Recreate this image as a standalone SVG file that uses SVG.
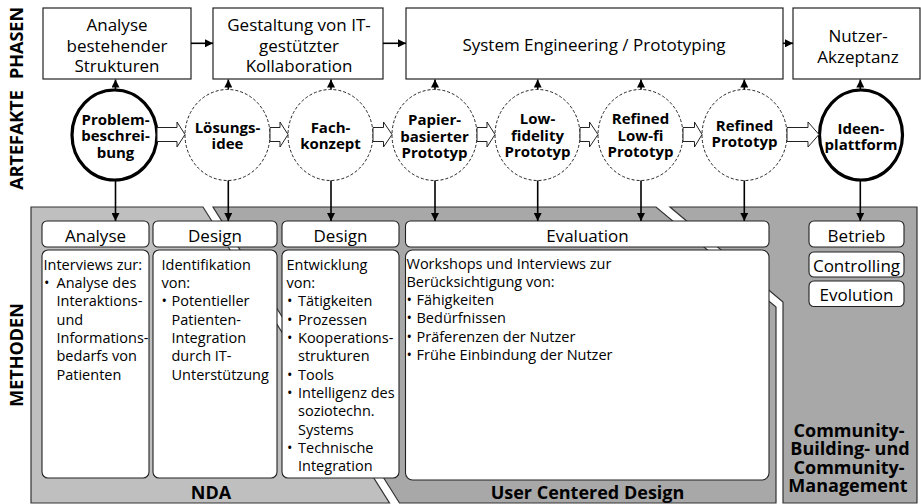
<svg xmlns="http://www.w3.org/2000/svg" width="921" height="504" viewBox="0 0 921 504">
  <style>
    text { font-family: "Open Sans", "Noto Sans", "DejaVu Sans", sans-serif; fill: #000; }
    .side { font-size: 18px; font-weight: bold; text-anchor: middle; }
    .phase { fill: #fff; stroke: #222; stroke-width: 1.2; }
    .phase-t { font-size: 17px; text-anchor: middle; }
    .art-solid { fill: #fff; stroke: #000; stroke-width: 3.2; }
    .art-dash { fill: #fff; stroke: #222; stroke-width: 1; stroke-dasharray: 3 2; }
    .art-t { font-size: 15px; font-weight: bold; text-anchor: middle; }
    .flow { fill: #fff; stroke: #222; stroke-width: 1; }
    .link { stroke: #000; stroke-width: 1.6; fill: none; }
    .panel-nda { fill: #bfbfbf; stroke: #333; stroke-width: 1.2; }
    .panel-ucd { fill: #a8a8a8; stroke: #333; stroke-width: 1.2; }
    .hdr { fill: #fff; stroke: #222; stroke-width: 1.1; }
    .hdr-t { font-size: 17px; text-anchor: middle; }
    .body { fill: #fff; stroke: #222; stroke-width: 1.1; }
    .body-t { font-size: 14.5px; }
    .foot { font-size: 18px; font-weight: bold; text-anchor: middle; }
  </style>
  <defs>
    <marker id="tip" viewBox="0 0 8 8" refX="8" refY="4" markerWidth="8" markerHeight="8" markerUnits="userSpaceOnUse" orient="auto">
      <path d="M0,0 L8,4 L0,8 z" fill="#000"/>
    </marker>
  </defs>

  <!-- row labels -->
  <g id="row-labels">
    <text class="side" transform="translate(23,43) rotate(-90)">PHASEN</text>
    <text class="side" transform="translate(23,140) rotate(-90)">ARTEFAKTE</text>
    <text class="side" transform="translate(23,355) rotate(-90)">METHODEN</text>
  </g>

  <!-- method areas -->
  <g id="area-nda">
    <polygon class="panel-nda" points="31,207 203,207 389.5,503 31,503"/>
    <text class="foot" x="211" y="499">NDA</text>
  </g>
  <g id="area-ucd">
    <polygon class="panel-ucd" points="213,207 656,207 776,307 776,503 399.5,503"/>
    <text class="foot" x="587.5" y="498.5">User Centered Design</text>
  </g>
  <g id="area-community">
    <polygon class="panel-ucd" points="670,207 917,207 917,503 783,503 783,302"/>
    <text class="foot" x="849" y="437">Community-</text>
    <text class="foot" x="850" y="455.3">Building- und</text>
    <text class="foot" x="849" y="473.6">Community-</text>
    <text class="foot" x="848" y="492">Management</text>
  </g>

  <!-- phases -->
  <g id="phase-analyse">
    <rect class="phase" x="43" y="8" width="148" height="71"/>
    <text class="phase-t" x="117" y="31">Analyse</text>
    <text class="phase-t" x="117" y="51.5">bestehender</text>
    <text class="phase-t" x="117" y="72">Strukturen</text>
  </g>
  <g id="phase-gestaltung">
    <rect class="phase" x="213" y="8" width="170" height="71"/>
    <text class="phase-t" x="299" y="31">Gestaltung von IT-</text>
    <text class="phase-t" x="299" y="51.5">gestützter</text>
    <text class="phase-t" x="299" y="72">Kollaboration</text>
  </g>
  <g id="phase-engineering">
    <rect class="phase" x="406" y="8" width="377" height="71"/>
    <text class="phase-t" x="594" y="50.5">System Engineering / Prototyping</text>
  </g>
  <g id="phase-akzeptanz">
    <rect class="phase" x="793" y="8" width="127" height="71"/>
    <text class="phase-t" x="858" y="41.5">Nutzer-</text>
    <text class="phase-t" x="858" y="63">Akzeptanz</text>
  </g>

  <!-- artefacts -->
  <g id="art-problem">
    <ellipse class="art-solid" cx="114.5" cy="135" rx="42.5" ry="45"/>
    <text class="art-t" x="115.5" y="124.5">Problem-</text>
    <text class="art-t" x="115.5" y="141">beschrei-</text>
    <text class="art-t" x="115.5" y="157.5">bung</text>
  </g>
  <g id="art-loesung">
    <ellipse class="art-dash" cx="227.5" cy="135" rx="42.5" ry="45.5"/>
    <text class="art-t" x="227.5" y="132.5">Lösungs-</text>
    <text class="art-t" x="227.5" y="149">idee</text>
  </g>
  <g id="art-fach">
    <ellipse class="art-dash" cx="330.5" cy="135" rx="42.5" ry="45.5"/>
    <text class="art-t" x="330.5" y="132.5">Fach-</text>
    <text class="art-t" x="330.5" y="149">konzept</text>
  </g>
  <g id="art-papier">
    <ellipse class="art-dash" cx="434.5" cy="135" rx="42.5" ry="45.5"/>
    <text class="art-t" x="434.5" y="125">Papier-</text>
    <text class="art-t" x="434.5" y="141.5">basierter</text>
    <text class="art-t" x="434.5" y="158">Prototyp</text>
  </g>
  <g id="art-lowfi">
    <ellipse class="art-dash" cx="537.5" cy="135" rx="42.5" ry="45.5"/>
    <text class="art-t" x="537.5" y="124">Low-</text>
    <text class="art-t" x="537.5" y="140.5">fidelity</text>
    <text class="art-t" x="537.5" y="157">Prototyp</text>
  </g>
  <g id="art-refined-lowfi">
    <ellipse class="art-dash" cx="640.5" cy="135" rx="42.5" ry="45.5"/>
    <text class="art-t" x="640.5" y="124">Refined</text>
    <text class="art-t" x="640.5" y="140.5">Low-fi</text>
    <text class="art-t" x="640.5" y="157">Prototyp</text>
  </g>
  <g id="art-refined">
    <ellipse class="art-dash" cx="744.5" cy="135" rx="42.5" ry="45.5"/>
    <text class="art-t" x="744.5" y="130.5">Refined</text>
    <text class="art-t" x="744.5" y="147">Prototyp</text>
  </g>
  <g id="art-ideen">
    <ellipse class="art-solid" cx="861" cy="135" rx="41.5" ry="45"/>
    <text class="art-t" x="861" y="133.5">Ideen-</text>
    <text class="art-t" x="861" y="150">plattform</text>
  </g>

  <!-- methods -->
  <g id="m-analyse">
    <rect class="hdr" x="42" y="221" width="107" height="26" rx="5"/>
    <text class="hdr-t" x="95.5" y="241.5">Analyse</text>
    <rect class="body" x="42" y="250" width="107" height="228" rx="6"/>
    <text class="body-t" x="43.5" y="269.5">Interviews zur:</text>
    <text class="body-t" x="44" y="288">•</text>
    <text class="body-t" x="56.5" y="288">Analyse des</text>
    <text class="body-t" x="56.5" y="306.3">Interaktions-</text>
    <text class="body-t" x="56.5" y="324.6">und</text>
    <text class="body-t" x="56.5" y="343">Informations-</text>
    <text class="body-t" x="56.5" y="361.3">bedarfs von</text>
    <text class="body-t" x="56.5" y="379.6">Patienten</text>
  </g>
  <g id="m-design-1">
    <rect class="hdr" x="153" y="221" width="124" height="26" rx="5"/>
    <text class="hdr-t" x="215" y="241.5">Design</text>
    <rect class="body" x="153" y="250" width="124" height="228" rx="6"/>
    <text class="body-t" x="161.5" y="269.5">Identifikation</text>
    <text class="body-t" x="161.5" y="288">von:</text>
    <text class="body-t" x="161.5" y="306.3">•</text>
    <text class="body-t" x="171.5" y="306.3">Potentieller</text>
    <text class="body-t" x="171.5" y="324.6">Patienten-</text>
    <text class="body-t" x="171.5" y="343">Integration</text>
    <text class="body-t" x="171.5" y="361.3">durch IT-</text>
    <text class="body-t" x="171.5" y="379.6">Unterstützung</text>
  </g>
  <g id="m-design-2">
    <rect class="hdr" x="282" y="221" width="117" height="26" rx="5"/>
    <text class="hdr-t" x="340.5" y="241.5">Design</text>
    <rect class="body" x="282" y="250" width="117" height="228" rx="6"/>
    <text class="body-t" x="286.5" y="269.5">Entwicklung</text>
    <text class="body-t" x="286.5" y="288">von:</text>
    <text class="body-t" x="287" y="306.3">•</text>
    <text class="body-t" x="298" y="306.3">Tätigkeiten</text>
    <text class="body-t" x="287" y="324.6">•</text>
    <text class="body-t" x="298" y="324.6">Prozessen</text>
    <text class="body-t" x="287" y="343">•</text>
    <text class="body-t" x="298" y="343">Kooperations-</text>
    <text class="body-t" x="298" y="361.3">strukturen</text>
    <text class="body-t" x="287" y="379.6">•</text>
    <text class="body-t" x="298" y="379.6">Tools</text>
    <text class="body-t" x="287" y="398">•</text>
    <text class="body-t" x="298" y="398">Intelligenz des</text>
    <text class="body-t" x="298" y="416.3">soziotechn.</text>
    <text class="body-t" x="298" y="434.6">Systems</text>
    <text class="body-t" x="287" y="453">•</text>
    <text class="body-t" x="298" y="453">Technische</text>
    <text class="body-t" x="298" y="471.3">Integration</text>
  </g>
  <g id="m-evaluation">
    <rect class="hdr" x="405.5" y="221" width="363.5" height="26" rx="5"/>
    <text class="hdr-t" x="587.5" y="241.5">Evaluation</text>
    <rect class="body" x="405.5" y="250" width="363.5" height="230" rx="7"/>
    <text class="body-t" x="406.5" y="268.5">Workshops und Interviews zur</text>
    <text class="body-t" x="406.5" y="286.8">Berücksichtigung von:</text>
    <text class="body-t" x="406.5" y="305.1">•</text>
    <text class="body-t" x="416.5" y="305.1">Fähigkeiten</text>
    <text class="body-t" x="406.5" y="323.4">•</text>
    <text class="body-t" x="416.5" y="323.4">Bedürfnissen</text>
    <text class="body-t" x="406.5" y="341.7">•</text>
    <text class="body-t" x="416.5" y="341.7">Präferenzen der Nutzer</text>
    <text class="body-t" x="406.5" y="360">•</text>
    <text class="body-t" x="416.5" y="360">Frühe Einbindung der Nutzer</text>
  </g>
  <g id="m-betrieb">
    <rect class="hdr" x="809" y="221" width="95" height="26" rx="5"/>
    <text class="hdr-t" x="856.5" y="241.5">Betrieb</text>
  </g>
  <g id="m-controlling">
    <rect class="hdr" x="809" y="252" width="95" height="25" rx="5"/>
    <text class="hdr-t" x="856.5" y="271.5">Controlling</text>
  </g>
  <g id="m-evolution">
    <rect class="hdr" x="809" y="281" width="95" height="25.5" rx="5"/>
    <text class="hdr-t" x="856.5" y="301">Evolution</text>
  </g>

  <!-- connectors -->
  <g id="connectors">
    <!-- phase sequence -->
    <line class="link" x1="191" y1="43.3" x2="213" y2="43.3" marker-end="url(#tip)"/>
    <line class="link" x1="383" y1="43.3" x2="406" y2="43.3" marker-end="url(#tip)"/>
    <line class="link" x1="783" y1="43.3" x2="793" y2="43.3" marker-end="url(#tip)"/>

    <!-- artefact to phase -->
    <line class="link" x1="115.5" y1="90" x2="115.5" y2="79.5" marker-end="url(#tip)"/>
    <line class="link" x1="228.3" y1="89.5" x2="228.3" y2="79.5" marker-end="url(#tip)"/>
    <line class="link" x1="331" y1="89.5" x2="331" y2="79.5" marker-end="url(#tip)"/>
    <line class="link" x1="435" y1="89.5" x2="435" y2="79.5" marker-end="url(#tip)"/>
    <line class="link" x1="537.7" y1="89.5" x2="537.7" y2="79.5" marker-end="url(#tip)"/>
    <line class="link" x1="641" y1="89.5" x2="641" y2="79.5" marker-end="url(#tip)"/>
    <line class="link" x1="744.3" y1="89.5" x2="744.3" y2="79.5" marker-end="url(#tip)"/>
    <line class="link" x1="860.3" y1="90" x2="860.3" y2="79.5" marker-end="url(#tip)"/>

    <!-- artefact to method -->
    <line class="link" x1="115.5" y1="180" x2="115.5" y2="221" marker-end="url(#tip)"/>
    <line class="link" x1="228.3" y1="180.5" x2="228.3" y2="221" marker-end="url(#tip)"/>
    <line class="link" x1="331" y1="180.5" x2="331" y2="221" marker-end="url(#tip)"/>
    <line class="link" x1="435" y1="180.5" x2="435" y2="221" marker-end="url(#tip)"/>
    <line class="link" x1="537.7" y1="180.5" x2="537.7" y2="221" marker-end="url(#tip)"/>
    <line class="link" x1="641" y1="180.5" x2="641" y2="221" marker-end="url(#tip)"/>
    <line class="link" x1="744.3" y1="180.5" x2="744.3" y2="221" marker-end="url(#tip)"/>
    <line class="link" x1="860.3" y1="180" x2="860.3" y2="221" marker-end="url(#tip)"/>

    <!-- artefact sequence (hollow block arrows) -->
    <path class="flow" d="M157,127.5 H177 V122 L185,134.5 L177,147 V141.5 H157 Z"/>
    <path class="flow" d="M270,127.5 H280 V122 L288,134.5 L280,147 V141.5 H270 Z"/>
    <path class="flow" d="M373,127.5 H383.5 V122 L392,134.5 L383.5,147 V141.5 H373 Z"/>
    <path class="flow" d="M477,127.5 H487 V122 L495,134.5 L487,147 V141.5 H477 Z"/>
    <path class="flow" d="M580,127.5 H589.5 V122 L598,134.5 L589.5,147 V141.5 H580 Z"/>
    <path class="flow" d="M683,127.5 H694.5 V122 L702,134.5 L694.5,147 V141.5 H683 Z"/>
    <path class="flow" d="M787,127.5 H808 V122 L819,134.5 L808,147 V141.5 H787 Z"/>
  </g>
</svg>
